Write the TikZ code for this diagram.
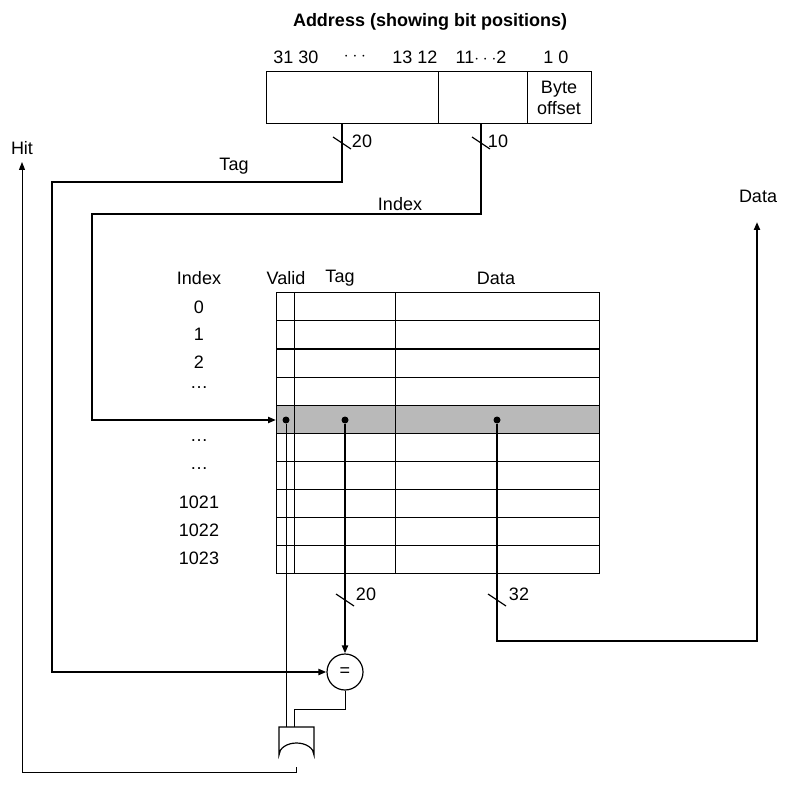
\documentclass[tikz,border=0pt]{standalone}
\usepackage{fontspec}
\setmainfont{Liberation Sans}
\usetikzlibrary{arrows.meta}
\begin{document}
\begin{tikzpicture}[x=1pt,y=-1pt,
  lbl/.style={inner sep=0pt,font=\fontsize{18}{20}\selectfont},
  bus/.style={line width=2.3pt},
  wire/.style={line width=1pt},
  arr/.style={-{Triangle[length=8pt,width=6pt]}},
  dotc/.style={circle,fill=black,inner sep=0pt,minimum size=7pt},
  slashmark/.style={line width=1.2pt}]
\useasboundingbox (0,0) rectangle (800,791);
% address
\node[lbl,font=\bfseries\fontsize{18}{20}\selectfont] (title) at (430,22) {Address (showing bit positions)};
\node[lbl] (b1) at (296,57) {31 30};
\node[lbl] (b2) at (355,57) {$\cdot\cdot\cdot$};
\node[lbl] (b3) at (415,57) {13 12};
\node[lbl] (b4) at (481,57) {11$\cdot\cdot\cdot$2};
\node[lbl] (b5) at (556,57) {1 0};
\draw[wire] (266,72) rectangle (591,124);
\draw[wire] (438,72) -- (438,124) (527,72) -- (527,124);
\node[lbl,align=center,font=\fontsize{18}{21}\selectfont] (bo) at (559,98) {Byte\\offset};
\coordinate (tagsrc) at (342,124);
\coordinate (idxsrc) at (481,124);
% table
\fill[gray!55] (276,405) rectangle (599,433);
\draw[wire] (276,293) rectangle (599,573);
\foreach \y in {321,349,377,405,433,461,489,517,545} \draw[wire] (276,\y) -- (599,\y);
\draw[wire] (294,293) -- (294,573) (395,293) -- (395,573);
\node[lbl] (hI) at (199,278) {Index};
\node[lbl] (hV) at (286,278) {Valid};
\node[lbl] (hT) at (340,278) {Tag};
\node[lbl] (hD) at (496,278) {Data};
\foreach \t/\y [count=\i] in {0/307,1/334,2/362,\dots/388,\dots/441,\dots/469,1021/502,1022/530,1023/558}
  \node[lbl] (r\i) at (199,\y) {\t};
\node[dotc] (dv) at (286,420) {};
\node[dotc] (dt) at (345,420) {};
\node[dotc] (dd) at (497,420) {};
\coordinate (rowin) at (276,420);
% comparator and gate
\node[circle,draw,line width=1.2pt,minimum size=36pt,inner sep=0pt,lbl] (eq) at (345,672) {=};
\draw[line width=1.2pt] (279,755) -- (279,727) -- (314,727) -- (314,755) arc[start angle=0,end angle=-180,x radius=17.5pt,y radius=-12pt] -- cycle;
\coordinate (gtop1) at (286,727);
\coordinate (gtop2) at (294,727);
\coordinate (gout) at (296,767);
% buses
\draw[bus,arr] (tagsrc) -- (342,182) -- (52,182) -- (52,672) -- (eq.west);
\draw[bus,arr] (idxsrc) -- (481,214) -- (92,214) -- (92,420) -- (rowin);
\draw[bus,arr] (dt) -- (eq.north);
\draw[bus,arr] (dd) -- (497,641) -- (757,641) -- (757,222);
\draw[wire] (dv) -- (gtop1);
\draw[wire] (eq.south) -- (345,709) -- (294,709) -- (gtop2);
\draw[wire,arr] (gout) -- (296,772) -- (22,772) -- (22,162);
% slashes
\foreach \x/\y in {342/143,481/143,345/600,497/600}
  \draw[slashmark] (\x-9,\y-6) -- (\x+9,\y+6);
\node[lbl] (w1) at (362,141) {20};
\node[lbl] (w2) at (498,141) {10};
\node[lbl] (w3) at (366,594) {20};
\node[lbl] (w4) at (519,594) {32};
\node[lbl] (ltag) at (234,166) {Tag};
\node[lbl] (lidx) at (400,204) {Index};
\node[lbl] (lhit) at (22,148) {Hit};
\node[lbl] (ldata) at (758,196) {Data};
\end{tikzpicture}
\end{document}
